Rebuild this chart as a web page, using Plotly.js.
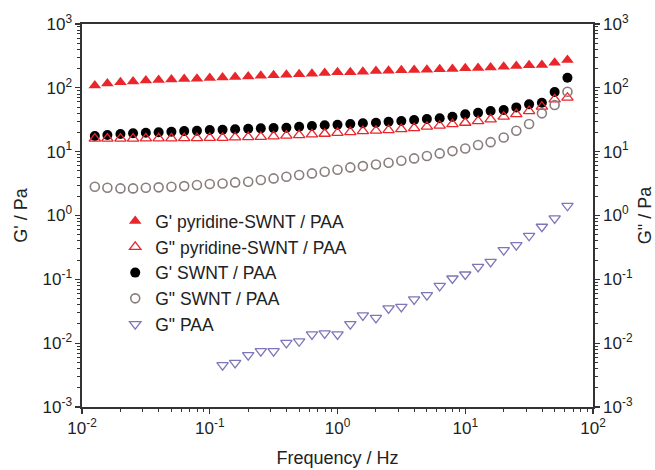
<!DOCTYPE html>
<html>
<head>
<meta charset="utf-8">
<script src="https://cdn.plot.ly/plotly-3.0.1.min.js"></script>
<style>html,body{margin:0;padding:0;background:#fff;}#chart{width:655px;height:470px;}</style>
</head>
<body>
<div id="chart"></div>
<script>
// Frequency (Hz), 10 points per decade
const freq = [0.0126,0.0158,0.02,0.0251,0.0316,0.0398,0.0501,0.0631,0.0794,0.1,
  0.126,0.158,0.2,0.251,0.316,0.398,0.501,0.631,0.794,1,
  1.26,1.58,2,2.51,3.16,3.98,5.01,6.31,7.94,10,
  12.6,15.8,20,25.1,31.6,39.8,50.1,63.1];
const freqPAA = [0.126,0.158,0.2,0.251,0.316,0.398,0.501,0.631,0.794,1,
  1.26,1.58,2,2.51,3.16,3.98,5.01,6.31,7.94,10,
  12.6,15.8,20,25.1,31.6,39.8,50.1,63.1];

const gPrimePyr = [109,117,122,126,130,133,135,137,139,142,145,148,151,154,157,160,163,166,170,
  175,175,179,183,186,188,190,192,195,197,202,204,209,214,220,225,228,248,273];
const gDoublePyr = [16.0,16.0,16.0,16.0,16.2,16.2,16.2,16.3,16.3,16.5,16.5,16.7,16.9,17.1,17.4,17.8,18.2,18.7,19.1,
  19.7,20.3,21.0,21.3,21.8,22.6,23.4,24.6,25.5,27.1,28.4,30.2,32.1,35.3,38.8,43.3,50.6,66,70];
const gPrimeSWNT = [17.6,18.2,18.9,19.4,19.8,20.1,20.5,21.0,21.3,21.8,22.0,22.4,22.9,23.2,23.4,23.7,24.6,25.3,25.9,
  26.4,27.1,27.8,28.4,29.4,30.2,31.3,32.4,33.3,35.3,38.4,40.8,43.3,44.9,49.4,55.1,58.5,86,144];
const gDoubleSWNT = [2.82,2.72,2.66,2.66,2.72,2.76,2.82,2.89,3.00,3.11,3.18,3.30,3.38,3.59,3.81,4.04,4.30,4.57,4.84,5.2,
  5.67,5.94,6.31,6.70,7.20,7.85,8.53,9.40,10.2,11.2,12.7,14.1,16.7,21.3,27.1,39.8,53.7,86.9];
const gDoublePAA = [0.00452,0.00491,0.00648,0.0075,0.0075,0.0101,0.0107,0.0137,0.0142,0.0137,
  0.0199,0.0272,0.0249,0.035,0.0371,0.0484,0.0565,0.079,0.103,0.119,
  0.157,0.188,0.287,0.344,0.481,0.667,0.90,1.42];

const seriesNames = ["G' pyridine-SWNT / PAA","G\" pyridine-SWNT / PAA","G' SWNT / PAA","G\" SWNT / PAA","G\" PAA"];

const xTickVals = [0.01,0.1,1,10,100];
const xTickText = ["10<sup>-2</sup>","10<sup>-1</sup>","10<sup>0</sup>","10<sup>1</sup>","10<sup>2</sup>"];
const yTickVals = [0.001,0.01,0.1,1,10,100,1000];
const yTickText = ["10<sup>-3</sup>","10<sup>-2</sup>","10<sup>-1</sup>","10<sup>0</sup>","10<sup>1</sup>","10<sup>2</sup>","10<sup>3</sup>"];

const red = '#e8262b';
const traces = [
  {x: freq, y: gPrimePyr, name: seriesNames[0], mode: 'markers', type: 'scatter',
   marker: {symbol: 'triangle-up', size: 11, color: red, line: {width: 0}}},
  {x: freq, y: gDoublePyr, name: seriesNames[1], mode: 'markers', type: 'scatter', yaxis: 'y2',
   marker: {symbol: 'triangle-up-open', size: 10, color: red, line: {width: 1.3}}},
  {x: freq, y: gPrimeSWNT, name: seriesNames[2], mode: 'markers', type: 'scatter',
   marker: {symbol: 'circle', size: 10, color: '#000000'}},
  {x: freq, y: gDoubleSWNT, name: seriesNames[3], mode: 'markers', type: 'scatter', yaxis: 'y2',
   marker: {symbol: 'circle-open', size: 9, color: '#8a7d7d', line: {width: 1.6}}},
  {x: freqPAA, y: gDoublePAA, name: seriesNames[4], mode: 'markers', type: 'scatter', yaxis: 'y2',
   marker: {symbol: 'triangle-down-open', size: 10, color: '#7d76b8', line: {width: 1.3}}}
];

const fontFam = 'Liberation Sans, Arial, sans-serif';
const axisCommon = {
  type: 'log', showgrid: false, zeroline: false, showline: true, linecolor: '#333', linewidth: 1.6,
  ticks: 'outside', ticklen: 5, tickwidth: 1.3, tickcolor: '#333',
  tickmode: 'array', tickfont: {family: fontFam, size: 17, color: '#222'},
  minor: {ticks: 'outside', ticklen: 3, tickwidth: 1, tickcolor: '#333', dtick: 'D1', showgrid: false}
};

const layout = {
  width: 655, height: 470,
  margin: {l: 82, r: 62, t: 24, b: 63},
  paper_bgcolor: '#ffffff', plot_bgcolor: '#ffffff',
  font: {family: fontFam, size: 17, color: '#222'},
  showlegend: true,
  legend: {x: 0.065, y: 0.532, xanchor: 'left', yanchor: 'top', bgcolor: 'rgba(0,0,0,0)',
    font: {family: fontFam, size: 17.5, color: '#222'}, tracegroupgap: 0},
  xaxis: Object.assign({}, axisCommon, {
    range: [-2, 2], tickvals: xTickVals, ticktext: xTickText, mirror: true,
    title: {text: 'Frequency / Hz', font: {family: fontFam, size: 18, color: '#222'}, standoff: 14}
  }),
  yaxis: Object.assign({}, axisCommon, {
    range: [-3, 3], tickvals: yTickVals, ticktext: yTickText,
    title: {text: "G' / Pa", font: {family: fontFam, size: 18, color: '#222'}, standoff: 10}
  }),
  yaxis2: Object.assign({}, axisCommon, {
    range: [-3, 3], tickvals: yTickVals, ticktext: yTickText, overlaying: 'y', side: 'right',
    title: {text: 'G" / Pa', font: {family: fontFam, size: 18, color: '#222'}, standoff: 6}
  })
};

Plotly.newPlot('chart', traces, layout, {displayModeBar: false, staticPlot: true});
</script>
</body>
</html>
